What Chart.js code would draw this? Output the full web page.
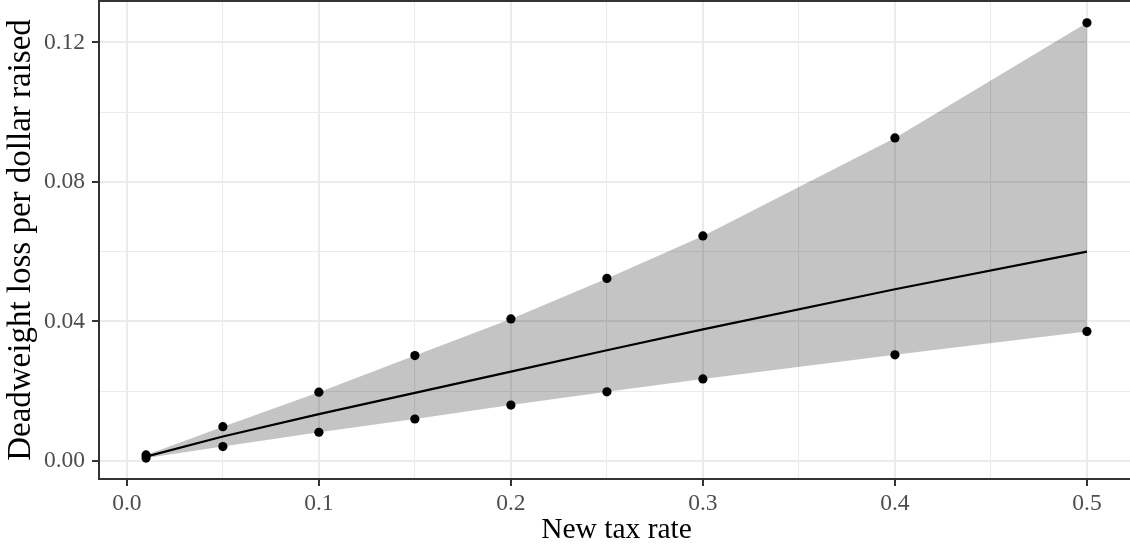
<!DOCTYPE html>
<html lang="en">
<head>
    <meta charset="UTF-8">
    <title>Deadweight loss per dollar raised</title>
    <style>
        html, body {
            margin: 0;
            padding: 0;
            background: #fff;
            overflow: hidden;
        }
        #chart-box {
            width: 1134px;
            height: 550px;
        }
    </style>
</head>
<body>
    <div id="chart-box">
        <canvas id="myChart"></canvas>
    </div>
    <script src="https://cdn.jsdelivr.net/npm/chart.js"></script>
    <script>
        // values
        var taxRates = [0.01, 0.05, 0.1, 0.15, 0.2, 0.25, 0.3, 0.4, 0.5];
        var upperBound = [0.0017, 0.0098, 0.0197, 0.0302, 0.0407, 0.0523, 0.0645, 0.0926, 0.1256];
        var lowerBound = [0.0008, 0.0041, 0.0082, 0.0120, 0.0160, 0.0198, 0.0235, 0.0304, 0.0371];
        var centralEstimate = [0.0012, 0.0070, 0.0134, 0.0195, 0.0256, 0.0317, 0.0377, 0.0492, 0.0600];

        var xMajorTicks = [0, 0.1, 0.2, 0.3, 0.4, 0.5];
        var xTickLabels = ['0.0', '0.1', '0.2', '0.3', '0.4', '0.5'];
        var xMinorTicks = [0.05, 0.15, 0.25, 0.35, 0.45];
        var yMajorTicks = [0, 0.04, 0.08, 0.12];
        var yTickLabels = ['0.00', '0.04', '0.08', '0.12'];
        var yMinorTicks = [0.02, 0.06, 0.10];

        function pairs(ys) {
            return taxRates.map(function(x, i) { return {x: x, y: ys[i]}; });
        }
        function findIndex(list, v) {
            for (var i = 0; i < list.length; i++) {
                if (Math.abs(list[i] - v) < 1e-9) return i;
            }
            return -1;
        }
        function allTicks(major, minor) {
            return major.concat(minor).sort(function(a, b) { return a - b; });
        }

        var serif = "'Liberation Serif', 'DejaVu Serif', serif";

        // panel border (right side falls outside the window in the reference)
        var panelBorder = {
            id: 'panelBorder',
            afterDatasetsDraw: function(chart) {
                var a = chart.chartArea, c = chart.ctx;
                c.save();
                c.strokeStyle = '#333333';
                c.lineWidth = 2;
                c.beginPath();
                c.moveTo(a.right + 2, a.top);
                c.lineTo(a.left, a.top);
                c.lineTo(a.left, a.bottom);
                c.lineTo(a.right + 2, a.bottom);
                c.stroke();
                c.restore();
            }
        };

        function axisOptions(major, minor, labels, min, max, title, isX) {
            return {
                type: 'linear',
                min: min,
                max: max,
                afterBuildTicks: function(scale) {
                    scale.ticks = allTicks(major, minor).map(function(v) { return {value: v}; });
                },
                afterFit: function(scale) {
                    if (isX) scale.height = 71; else scale.width = 99;
                    scale.paddingTop = 0;
                    scale.paddingBottom = 0;
                    scale.paddingLeft = 0;
                    scale.paddingRight = 0;
                },
                border: { display: false },
                grid: {
                    color: '#EBEBEB',
                    lineWidth: function(ctx) {
                        return findIndex(major, ctx.tick.value) >= 0 ? 2 : 1.1;
                    },
                    tickLength: 7,
                    tickWidth: 2,
                    tickColor: function(ctx) {
                        return findIndex(major, ctx.tick.value) >= 0 ? '#333333' : 'rgba(0,0,0,0)';
                    }
                },
                ticks: {
                    autoSkip: false,
                    maxRotation: 0,
                    padding: isX ? 4 : 7,
                    color: '#4D4D4D',
                    font: { family: serif, size: 23.5 },
                    callback: function(value) {
                        var i = findIndex(major, value);
                        return i >= 0 ? labels[i] : '';
                    }
                },
                title: {
                    display: true,
                    text: title,
                    color: '#000000',
                    font: { family: serif, size: isX ? 29.5 : 33 },
                    padding: isX ? { top: 0, bottom: 2 } : { top: 2, bottom: 0 }
                }
            };
        }

        var config = {
            type: 'line',
            data: {
                datasets: [
                    {
                        label: 'upper points',
                        data: pairs(upperBound),
                        showLine: false,
                        pointRadius: 4.6,
                        pointBackgroundColor: '#000',
                        pointBorderWidth: 0,
                        order: 1
                    },
                    {
                        label: 'lower points',
                        data: pairs(lowerBound),
                        showLine: false,
                        pointRadius: 4.6,
                        pointBackgroundColor: '#000',
                        pointBorderWidth: 0,
                        order: 1
                    },
                    {
                        label: 'estimate',
                        data: pairs(centralEstimate),
                        borderColor: '#000',
                        borderWidth: 2.2,
                        pointRadius: 0,
                        fill: false,
                        order: 2
                    },
                    {
                        label: 'upper',
                        data: pairs(upperBound),
                        borderWidth: 0,
                        pointRadius: 0,
                        fill: false,
                        order: 3
                    },
                    {
                        label: 'lower',
                        data: pairs(lowerBound),
                        borderWidth: 0,
                        pointRadius: 0,
                        backgroundColor: 'rgba(0, 0, 0, 0.23)',
                        fill: '-1',
                        order: 3
                    }
                ]
            },
            options: {
                responsive: true,
                maintainAspectRatio: false,
                animation: false,
                layout: { padding: { top: 1, left: 0, right: 0, bottom: 0 }, autoPadding: false },
                plugins: {
                    legend: { display: false },
                    tooltip: { enabled: false }
                },
                scales: {
                    x: axisOptions(xMajorTicks, xMinorTicks, xTickLabels, -0.0145, 0.5245, 'New tax rate', true),
                    y: axisOptions(yMajorTicks, yMinorTicks, yTickLabels, -0.0052, 0.13185, 'Deadweight loss per dollar raised', false)
                }
            },
            plugins: [panelBorder]
        };

        var ctx = document.getElementById('myChart').getContext('2d');
        window.myChart = new Chart(ctx, config);
    </script>
</body>
</html>
